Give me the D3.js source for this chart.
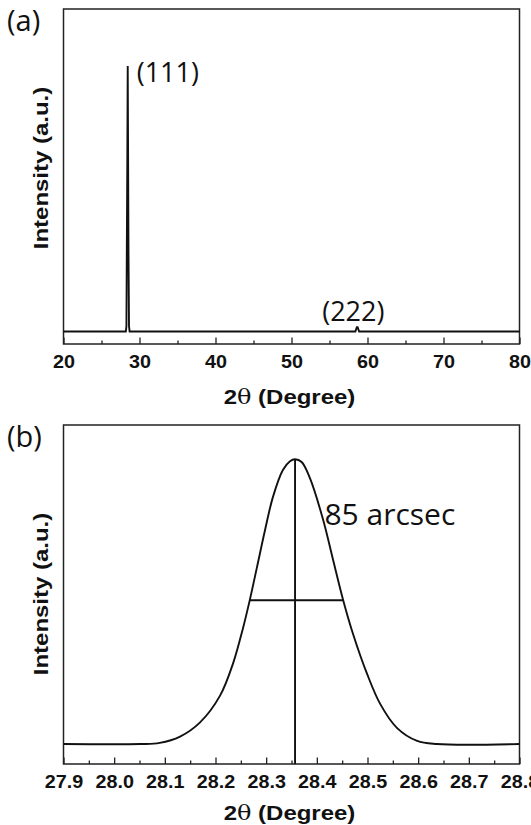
<!DOCTYPE html>
<html>
<head>
<meta charset="utf-8">
<script src="https://cdn.jsdelivr.net/npm/d3@7"></script>
<style>
  body { margin: 0; background: #fff; }
  svg { display: block; }
</style>
</head>
<body>
<div id="grafico"></div>
<script>
// dados lidos da figura
// painel (a): varredura larga
var dois_theta_a = [20, 28.20, 28.28, 28.33, 28.40, 28.45, 28.50, 28.55, 28.62, 28.70, 58.40, 58.60, 58.70, 58.90, 80];
var intensidade_a = [0, 0, 0.02, 0.30, 0.66, 1.00, 0.66, 0.30, 0.02, 0, 0, 0.016, 0.016, 0, 0];
var ticks_a = [20, 30, 40, 50, 60, 70, 80];
var ticks_menores_a = [25, 35, 45, 55, 65, 75];

// painel (b): pico (111) ampliado
var dois_theta_b = [27.90, 28.051, 28.090, 28.130, 28.169, 28.209, 28.235, 28.254, 28.268, 28.282, 28.298, 28.313, 28.333, 28.347, 28.357, 28.370, 28.386, 28.412, 28.432, 28.452, 28.471, 28.499, 28.525, 28.558, 28.598, 28.637, 28.80];
var intensidade_b = [0, 0, 0.004, 0.026, 0.075, 0.17, 0.285, 0.405, 0.508, 0.622, 0.753, 0.865, 0.962, 0.993, 1.0, 0.99, 0.935, 0.79, 0.647, 0.505, 0.389, 0.247, 0.141, 0.057, 0.011, 0, 0];
var ticks_b = [27.9, 28.0, 28.1, 28.2, 28.3, 28.4, 28.5, 28.6, 28.7, 28.8];
var ticks_menores_b = [27.95, 28.05, 28.15, 28.25, 28.35, 28.45, 28.55, 28.65, 28.75];
var pico_b = 28.357;
var fwhm_b = [28.268, 28.452];
var meia_altura_b = 0.505;

var svg = d3.select("#grafico")
            .append("svg")
            .attr("width", 531)
            .attr("height", 825);

var fonte_label = "'Open Sans', 'Noto Sans', sans-serif";
var fonte_eixo = "'Liberation Sans', Arial, sans-serif";

function desenha_painel(p){

    var x = d3.scaleLinear()
              .domain(p.xdom)
              .range([p.left, p.right]);

    var y = d3.scaleLinear()
              .domain(p.ydom)
              .range([p.bottom, p.top]);

    var g = svg.append("g");

    // moldura
    g.append("rect")
     .attr("x", p.left)
     .attr("y", p.top)
     .attr("width", p.right - p.left)
     .attr("height", p.bottom - p.top)
     .style("fill", "none")
     .style("stroke", "#222")
     .style("stroke-width", 1.5);

    // ticks menores
    g.append("g")
     .attr("transform", "translate(0," + p.bottom + ")")
     .call(d3.axisBottom(x).tickValues(p.minor).tickSizeInner(-3.5).tickSizeOuter(0).tickFormat(""))
     .call(function(s){ s.select(".domain").remove(); })
     .selectAll("line").style("stroke", "#222").style("stroke-width", 1.3);

    // ticks principais
    var eixo = g.append("g")
     .attr("transform", "translate(0," + p.bottom + ")")
     .call(d3.axisBottom(x).tickValues(p.major).tickSizeInner(-6.5).tickSizeOuter(0).tickPadding(12).tickFormat(p.fmt));

    eixo.select(".domain").remove();
    eixo.selectAll("line").style("stroke", "#222").style("stroke-width", 1.3);
    eixo.selectAll("text")
        .style("font-family", fonte_eixo)
        .style("font-weight", "bold")
        .style("font-size", "17.5px")
        .style("fill", "#111")
        .attr("transform", "scale(1.13,1)");

    // curva
    var linha = d3.line()
                  .x(function(d){ return x(d[0]); })
                  .y(function(d){ return y(d[1]); })
                  .curve(p.curve);

    g.append("path")
     .datum(d3.zip(p.xs, p.ys))
     .attr("d", linha)
     .style("fill", "none")
     .style("stroke", "#111")
     .style("stroke-width", 1.9);

    // titulo do eixo x
    var tx = g.append("text")
      .attr("transform", "translate(" + ((p.left + p.right) / 2 - 2) + "," + p.xtitle + ") scale(1.17,1)")
      .attr("text-anchor", "middle")
      .style("font-family", fonte_eixo)
      .style("font-weight", "bold")
      .style("font-size", "20.5px")
      .style("fill", "#111");
    tx.append("tspan").text("2");
    tx.append("tspan").style("font-family", "'DejaVu Serif', serif").style("font-weight", "normal").text("θ");
    tx.append("tspan").text(" (Degree)");

    // titulo do eixo y
    g.append("text")
     .attr("transform", "translate(47.5," + p.ytitle + ") rotate(-90) scale(1.17,1)")
     .attr("text-anchor", "middle")
     .style("font-family", fonte_eixo)
     .style("font-weight", "bold")
     .style("font-size", "20.5px")
     .style("fill", "#111")
     .text("Intensity (a.u.)");

    // letra do painel
    g.append("text")
     .attr("x", 7)
     .attr("y", p.top + 22)
     .style("font-family", fonte_label)
     .style("font-size", "29px")
     .style("fill", "#111")
     .text(p.letra);

    return {x: x, y: y, g: g};
}

// painel (a)
var a = desenha_painel({
    xdom: [20, 80], ydom: [-0.047, 1.215],
    left: 63.5, right: 519.5, top: 9, bottom: 344,
    major: ticks_a, minor: ticks_menores_a, fmt: d3.format("d"),
    xs: dois_theta_a, ys: intensidade_a, curve: d3.curveLinear,
    xtitle: 403.5, ytitle: 168, letra: "(a)"
});

a.g.append("text")
   .attr("x", a.x(28.45) + 9)
   .attr("y", a.y(1.0) + 16)
   .style("font-family", fonte_label)
   .style("font-size", "27px")
   .style("fill", "#111")
   .text("(111)");

a.g.append("text")
   .attr("x", a.x(58.66) - 4)
   .attr("y", a.y(0.016) - 6)
   .attr("text-anchor", "middle")
   .style("font-family", fonte_label)
   .style("font-size", "27px")
   .style("fill", "#111")
   .text("(222)");

// painel (b)
var b = desenha_painel({
    xdom: [27.9, 28.8], ydom: [-0.07, 1.12],
    left: 63.5, right: 519.5, top: 425, bottom: 764,
    major: ticks_b, minor: ticks_menores_b, fmt: d3.format(".1f"),
    xs: dois_theta_b, ys: intensidade_b, curve: d3.curveCatmullRom.alpha(0.5),
    xtitle: 820, ytitle: 594, letra: "(b)"
});

// linha vertical no pico
b.g.append("line")
   .attr("x1", b.x(pico_b)).attr("x2", b.x(pico_b))
   .attr("y1", b.y(1.0)).attr("y2", b.y(-0.07))
   .style("stroke", "#111")
   .style("stroke-width", 1.9);

// largura a meia altura
b.g.append("line")
   .attr("x1", b.x(fwhm_b[0])).attr("x2", b.x(fwhm_b[1]))
   .attr("y1", b.y(meia_altura_b)).attr("y2", b.y(meia_altura_b))
   .style("stroke", "#111")
   .style("stroke-width", 1.9);

b.g.append("text")
   .attr("x", b.x(28.415))
   .attr("y", b.y(0.77))
   .style("font-family", fonte_label)
   .style("font-size", "30px")
   .style("fill", "#111")
   .text("85 arcsec");
</script>
</body>
</html>
